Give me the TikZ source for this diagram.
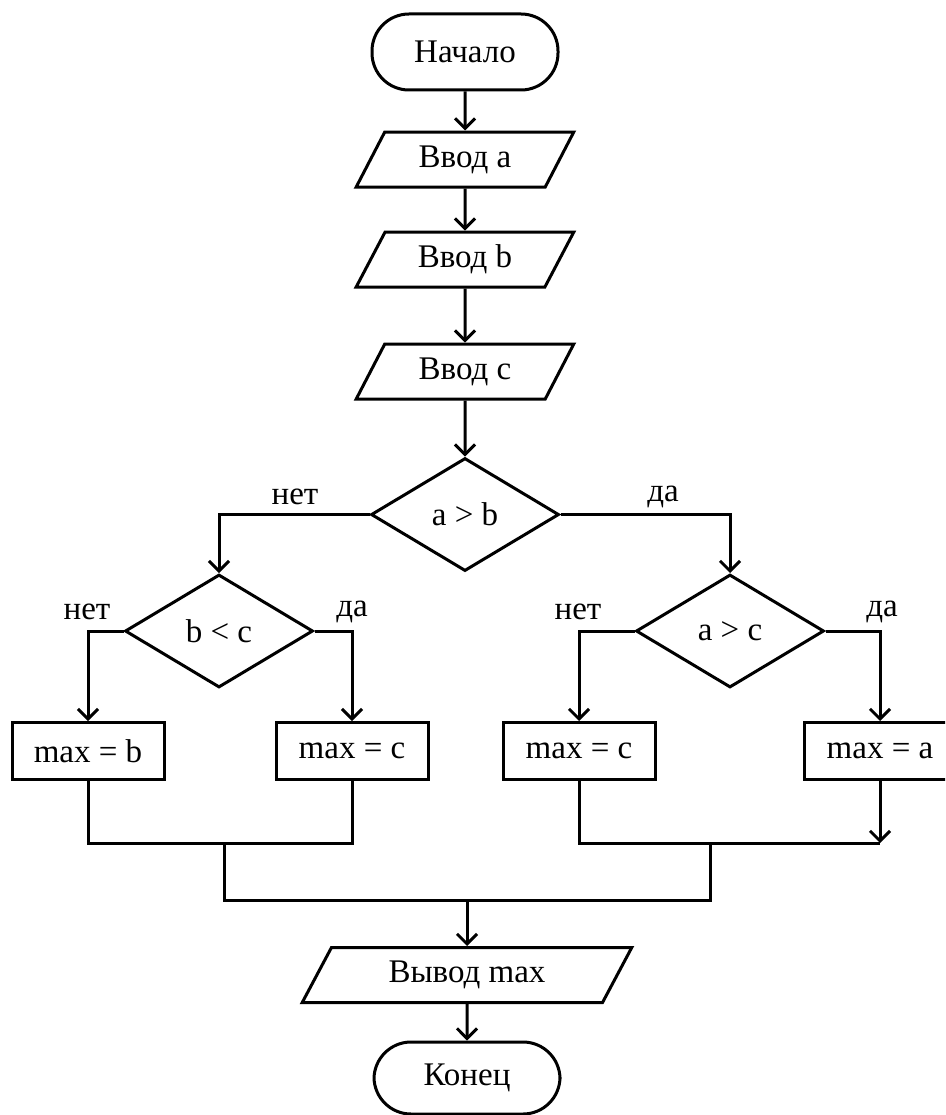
\documentclass[tikz,border=0pt]{standalone}
\usepackage{fontspec}
\setmainfont{Liberation Serif}
\usetikzlibrary{shapes.geometric,arrows.meta,positioning}

\begin{document}
\begin{tikzpicture}[x=1pt, y=-1pt, line width=3pt,
  every node/.style={align=center, font=\fontsize{33}{39}\selectfont},
  startstop/.style={draw, rectangle, rounded corners=37pt, minimum width=186pt, minimum height=76pt},
  io/.style={draw, trapezium, trapezium left angle=63, trapezium right angle=117, trapezium stretches, minimum width=218pt, minimum height=55pt},
  decision/.style={draw, diamond, inner sep=0pt, minimum width=188pt, minimum height=113pt},
  process/.style={draw, rectangle, minimum width=152pt, minimum height=57pt},
  answer/.style={inner sep=0pt},
  >={Straight Barb[length=10pt,width=20pt]}]
\useasboundingbox (0,0) rectangle (945,1115);
\clip (0,0) rectangle (945,1115);

% main column
\node[startstop] (start) at (465,52) {Начало};
\node[io] (ina) [below=39pt of start] {Ввод a};
\node[io] (inb) [below=42pt of ina] {Ввод b};
\node[io] (inc) [below=54pt of inb] {Ввод c};
\node[decision] (ab) [below=56pt of inc] {a > b};

% branches
\node[decision] (bc) at (219,631) {b < c};
\node[decision] (ac) at (730,631) {a > c};
\node[process] (maxb) at (88,751) {max = b};
\node[process] (maxc1) at (352,751) {max = c};
\node[process] (maxc2) at (579,751) {max = c};
\node[process] (maxa) at (880,751) {max = a};

\node[io, minimum width=330pt] (out) at (467,975) {Вывод max};
\node[startstop, minimum height=72pt] (stop) at (467,1078) {Конец};

% yes / no labels
\node[answer] (abno) at (295,497) {нет};
\node[answer] (abyes) at (663,497) {да};
\node[answer] (bcno) at (87,612) {нет};
\node[answer] (bcyes) at (352,612) {да};
\node[answer] (acno) at (578,612) {нет};
\node[answer] (acyes) at (882,612) {да};

\draw[->] (start) -- (ina);
\draw[->] (ina) -- (inb);
\draw[->] (inb) -- (inc);
\draw[->] (inc) -- (ab);

\draw[->] (ab.west) -| (bc.north);
\draw[->] (ab.east) -| (ac.north);
\draw[->] (bc.west) -| (maxb.north);
\draw[->] (bc.east) -| (maxc1.north);
\draw[->] (ac.west) -| (maxc2.north);
\draw[->] (ac.east) -| (maxa.north);

% joining the branches
\coordinate (leftjoin) at (224,843);
\coordinate (rightjoin) at (710,843);
\coordinate (mainjoin) at (467,900);
\draw (maxb.south) |- (maxc1.south |- leftjoin) -- (maxc1.south);
\draw (maxc2.south) |- (maxa.south |- rightjoin);
\draw[->] (maxa.south) -- (maxa.south |- rightjoin);
\draw (leftjoin) |- (mainjoin) -| (rightjoin);
\draw[->] (mainjoin) -- (out);
\draw[->] (out) -- (stop);
\end{tikzpicture}
\end{document}
